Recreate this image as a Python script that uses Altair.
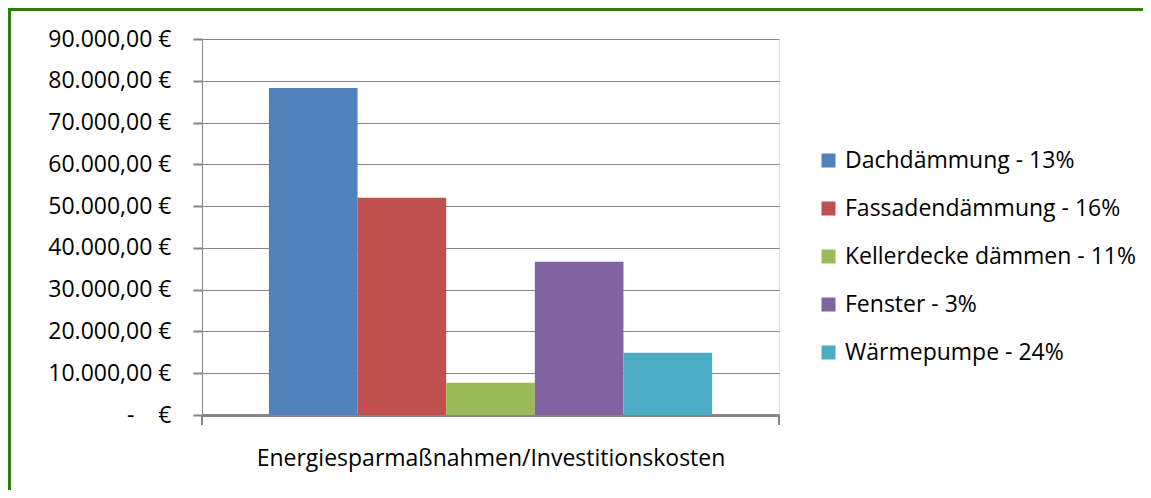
import altair as alt
import pandas as pd

category = ["Energiesparmaßnahmen/Investitionskosten"]
series = ["Dachdämmung - 13%", "Fassadendämmung - 16%", "Kellerdecke dämmen - 11%",
          "Fenster - 3%", "Wärmepumpe - 24%"]
values = [78300, 52000, 7700, 36700, 14900]
colors = ["#4F81BD", "#C0504D", "#9BBB59", "#8064A2", "#4BACC6"]
y_ticks = [0, 10000, 20000, 30000, 40000, 50000, 60000, 70000, 80000, 90000]

FONT = "Open Sans"
GRAY = "#868686"
W, H = 577, 376
PL, PT, PR, PB = 194, 31, 364, 75

df = pd.DataFrame({"cat": category * len(series), "series": series, "value": values})

bars = alt.Chart(df).mark_bar().encode(
    x=alt.X("cat:N",
            scale=alt.Scale(paddingInner=0, paddingOuter=0.151),
            axis=alt.Axis(labels=False, ticks=False, domain=True, domainColor=GRAY,
                          domainWidth=3, title=category[0], titlePadding=32,
                          titleFont=FONT, titleFontSize=23, titleFontWeight="normal",
                          titleColor="#000000")),
    xOffset=alt.XOffset("series:N", sort=series,
                        scale=alt.Scale(paddingInner=0, paddingOuter=0)),
    y=alt.Y("value:Q",
            scale=alt.Scale(domain=[0, 90000], nice=False),
            axis=alt.Axis(values=y_ticks, title=None, grid=True, gridColor=GRAY,
                          gridWidth=1, domain=True, domainColor=GRAY, domainWidth=1,
                          tickSize=9, tickWidth=2, tickColor=GRAY, labelPadding=22,
                          labelFont=FONT, labelFontSize=23, labelColor="#000000",
                          labelExpr="datum.value == 0 ? '-\u00a0\u00a0\u00a0\u00a0€' : format(datum.value / 1000, 'd') + '.000,00 €'")),
    color=alt.Color("series:N", sort=series,
                    scale=alt.Scale(domain=series, range=colors),
                    legend=alt.Legend(title=None, orient="none", legendX=615, legendY=110,
                                      symbolType="square", symbolSize=196,
                                      symbolStrokeWidth=0, labelFont=FONT,
                                      labelFontSize=23, labelColor="#000000",
                                      labelLimit=400, rowPadding=24, labelOffset=5,
                                      padding=0)),
)

deco = pd.DataFrame({"a": [0]})
xticks = alt.Chart(deco).mark_rule(color=GRAY, strokeWidth=2)
tick_left = xticks.encode(x=alt.value(0), y=alt.value(H), y2=alt.value(H + 10))
tick_right = xticks.encode(x=alt.value(W), y=alt.value(H), y2=alt.value(H + 10))

border = alt.Chart(deco).mark_rule(color="#2E7D0F", strokeWidth=3)
border_left = border.encode(x=alt.value(-PL + 1.5), y=alt.value(-PT), y2=alt.value(H + PB + 10))
border_top = border.encode(x=alt.value(-PL), x2=alt.value(W + PR + 10), y=alt.value(-PT + 1.5))

chart = alt.layer(bars, tick_left, tick_right, border_left, border_top).properties(
    width=W, height=H,
    autosize=alt.AutoSizeParams(type="none"),
    padding={"left": PL, "top": PT, "right": PR, "bottom": PB},
).configure_view(stroke=None).configure(background="white")

chart.save("out.html", embed_options={"renderer": "svg", "actions": False})
